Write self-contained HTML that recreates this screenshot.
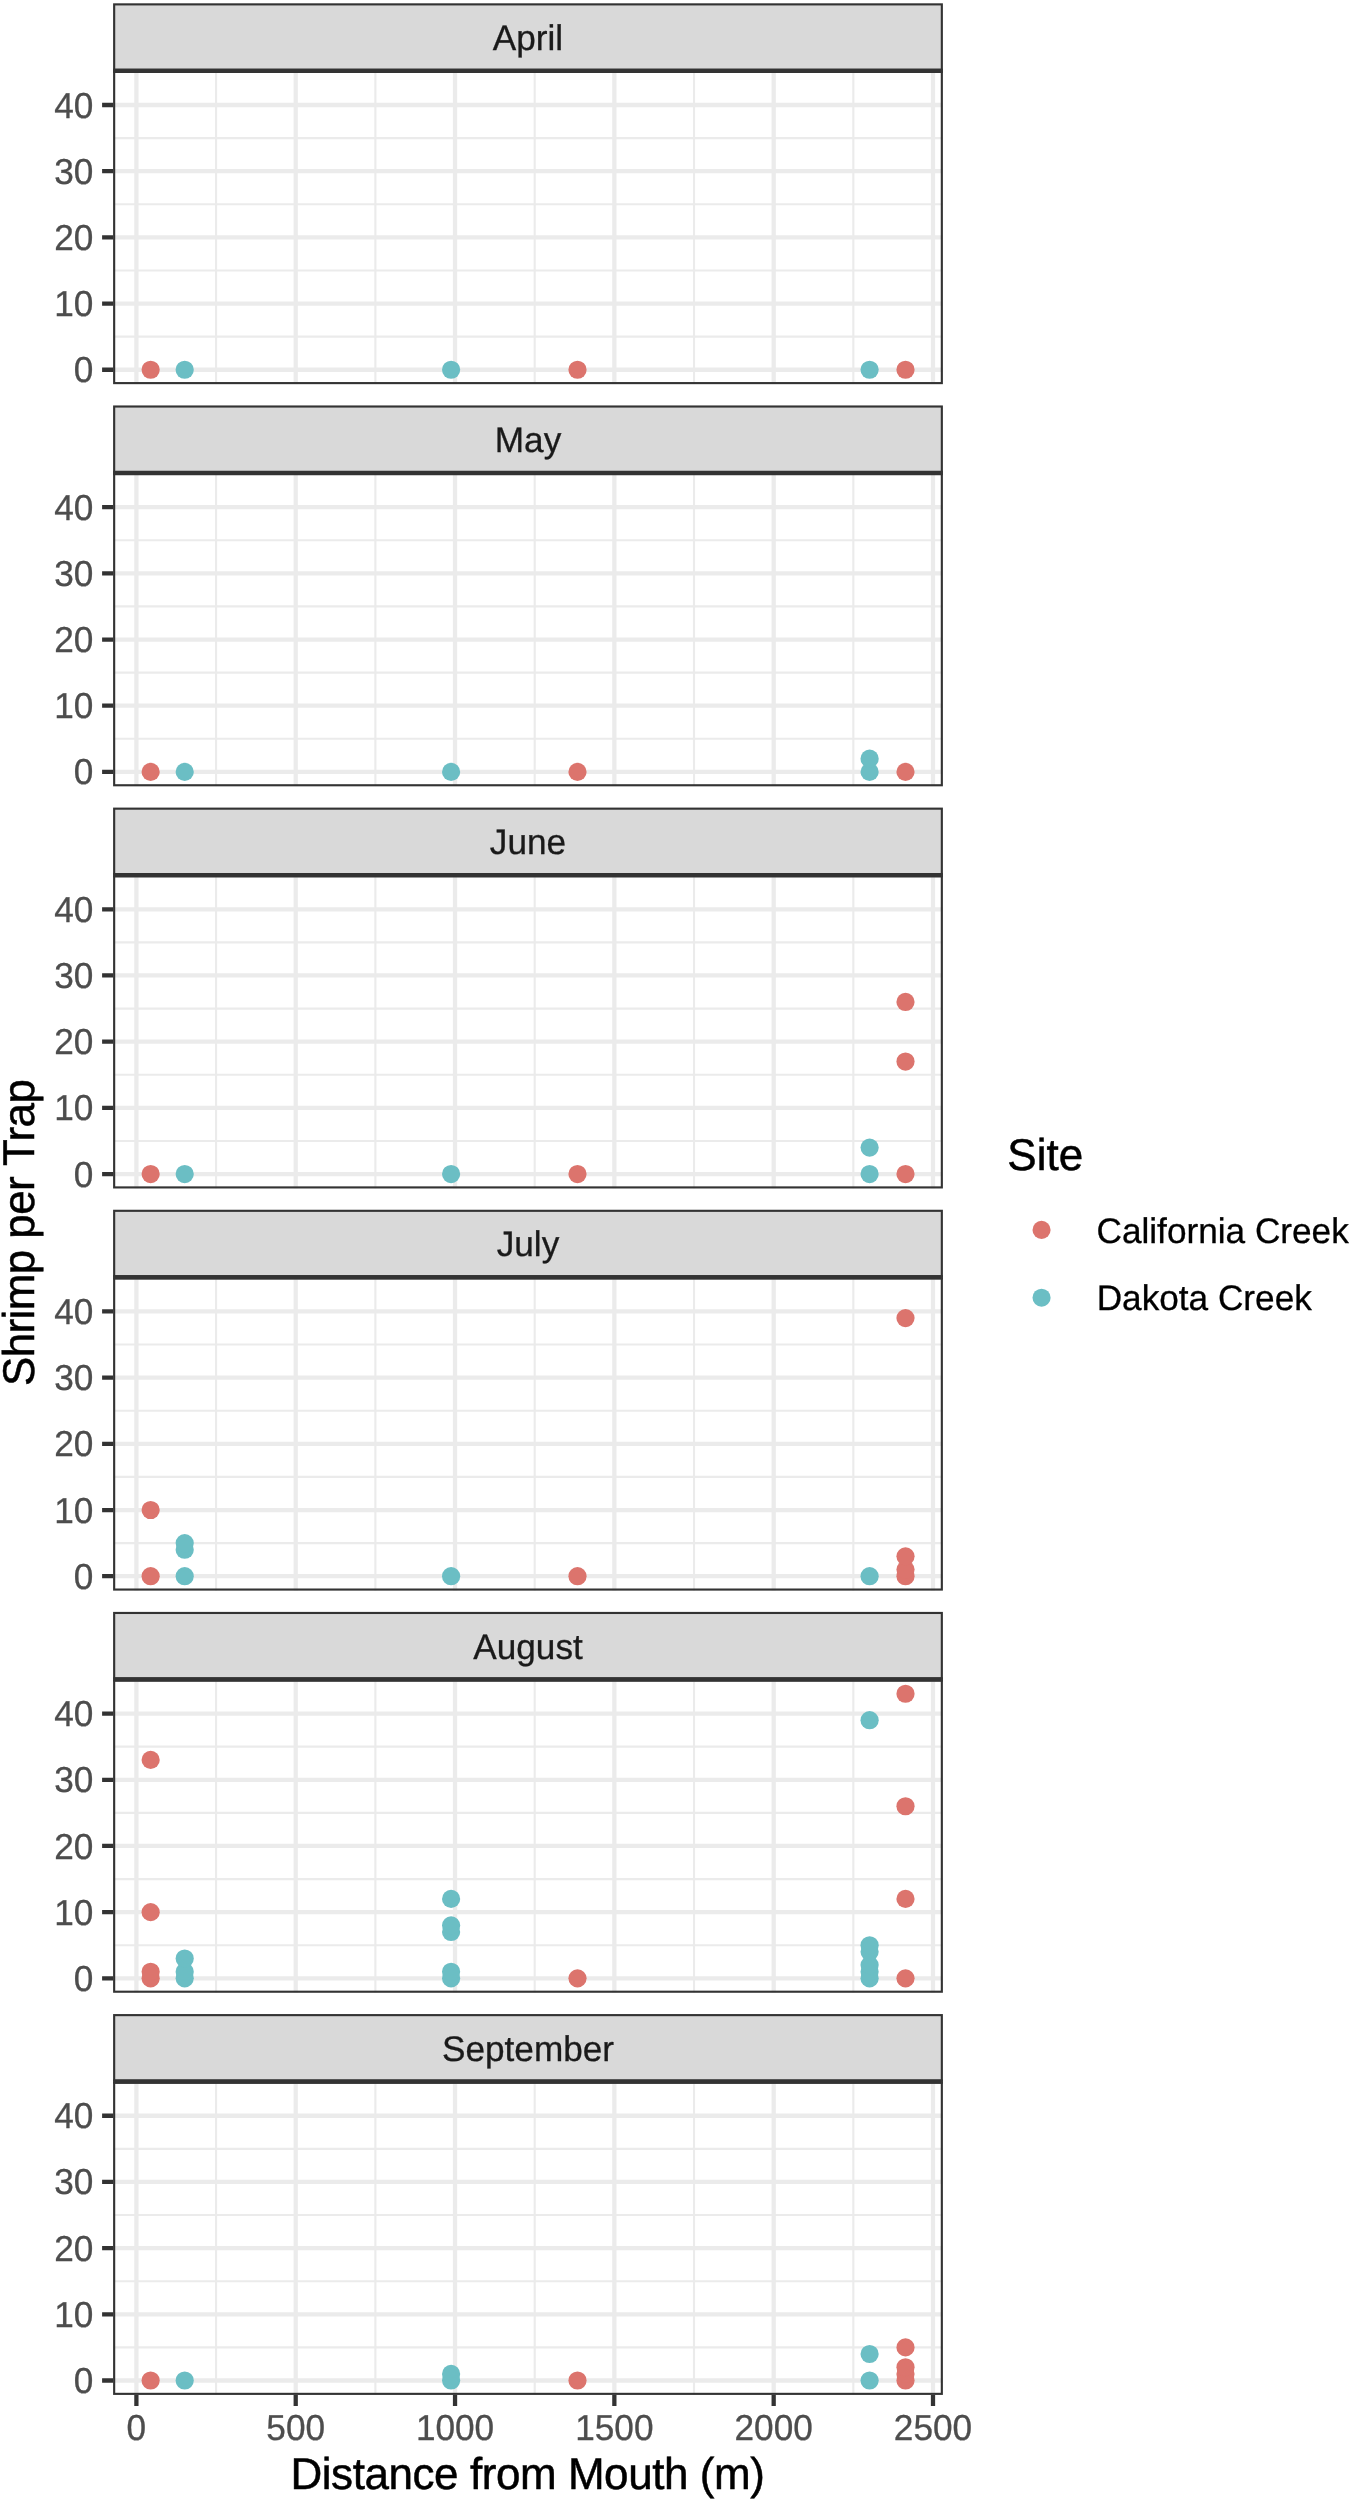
<!DOCTYPE html>
<html><head><meta charset="utf-8"><title>Shrimp per Trap</title>
<style>
html,body{margin:0;padding:0;background:#fff;width:1350px;height:2500px;overflow:hidden}
svg{display:block;font-family:"Liberation Sans",sans-serif;will-change:transform;text-rendering:geometricPrecision}
</style></head><body>
<svg width="1350" height="2500" viewBox="0 0 1350 2500">
<rect x="0" y="0" width="1350" height="2500" fill="#ffffff"/>
<defs>
<clipPath id="cp0"><rect x="113.1" y="70.85" width="829.8" height="313.33"/></clipPath>
<clipPath id="cp1"><rect x="113.1" y="473" width="829.8" height="313.33"/></clipPath>
<clipPath id="cp2"><rect x="113.1" y="875.15" width="829.8" height="313.33"/></clipPath>
<clipPath id="cp3"><rect x="113.1" y="1277.3" width="829.8" height="313.33"/></clipPath>
<clipPath id="cp4"><rect x="113.1" y="1679.45" width="829.8" height="313.33"/></clipPath>
<clipPath id="cp5"><rect x="113.1" y="2081.6" width="829.8" height="313.33"/></clipPath>
</defs>
<rect x="114.16" y="4.37" width="827.67" height="65.42" fill="#D9D9D9" stroke="#333333" stroke-width="2.13"/>
<text x="528" y="0" transform="translate(0 49.9) scale(1 1.01)" text-anchor="middle" font-size="35.2" fill="#1A1A1A" stroke="#1A1A1A" stroke-width="0.3">April</text>
<g clip-path="url(#cp0)">
<rect x="113.1" y="70.85" width="829.8" height="313.33" fill="#ffffff"/>
<path d="M113.1 336.65H942.9M113.1 270.47H942.9M113.1 204.28H942.9M113.1 138.09H942.9M113.1 71.89H942.9M216.06 70.85V384.18M375.38 70.85V384.18M534.7 70.85V384.18M694.02 70.85V384.18M853.34 70.85V384.18" stroke="#EBEBEB" stroke-width="2.13" fill="none"/>
<path d="M113.1 369.75H942.9M113.1 303.56H942.9M113.1 237.37H942.9M113.1 171.18H942.9M113.1 104.99H942.9M136.4 70.85V384.18M295.72 70.85V384.18M455.04 70.85V384.18M614.36 70.85V384.18M773.68 70.85V384.18M933 70.85V384.18" stroke="#EBEBEB" stroke-width="4.27" fill="none"/>
<circle cx="150.65" cy="369.75" r="9.1" fill="#DC746D"/>
<circle cx="184.7" cy="369.75" r="9.1" fill="#6BBEC4"/>
<circle cx="451.1" cy="369.75" r="9.1" fill="#6BBEC4"/>
<circle cx="577.5" cy="369.75" r="9.1" fill="#DC746D"/>
<circle cx="869.6" cy="369.75" r="9.1" fill="#6BBEC4"/>
<circle cx="905.5" cy="369.75" r="9.1" fill="#DC746D"/>
</g>
<rect x="114.16" y="71.91" width="827.67" height="311.2" fill="none" stroke="#333333" stroke-width="2.13"/>
<rect x="113.1" y="68.72" width="829.8" height="4.26" fill="#333333"/>
<path d="M102.1 369.75H113.1M102.1 303.56H113.1M102.1 237.37H113.1M102.1 171.18H113.1M102.1 104.99H113.1" stroke="#333333" stroke-width="4.27" fill="none"/>
<text x="93.4" y="0" transform="translate(0 382.3) scale(1 1.025)" text-anchor="end" font-size="35.2" fill="#4D4D4D" stroke="#4D4D4D" stroke-width="0.3">0</text>
<text x="93.4" y="0" transform="translate(0 316.11) scale(1 1.025)" text-anchor="end" font-size="35.2" fill="#4D4D4D" stroke="#4D4D4D" stroke-width="0.3">10</text>
<text x="93.4" y="0" transform="translate(0 249.92) scale(1 1.025)" text-anchor="end" font-size="35.2" fill="#4D4D4D" stroke="#4D4D4D" stroke-width="0.3">20</text>
<text x="93.4" y="0" transform="translate(0 183.73) scale(1 1.025)" text-anchor="end" font-size="35.2" fill="#4D4D4D" stroke="#4D4D4D" stroke-width="0.3">30</text>
<text x="93.4" y="0" transform="translate(0 117.54) scale(1 1.025)" text-anchor="end" font-size="35.2" fill="#4D4D4D" stroke="#4D4D4D" stroke-width="0.3">40</text>
<rect x="114.16" y="406.51" width="827.67" height="65.42" fill="#D9D9D9" stroke="#333333" stroke-width="2.13"/>
<text x="528" y="0" transform="translate(0 452.05) scale(1 1.01)" text-anchor="middle" font-size="35.2" fill="#1A1A1A" stroke="#1A1A1A" stroke-width="0.3">May</text>
<g clip-path="url(#cp1)">
<rect x="113.1" y="473" width="829.8" height="313.33" fill="#ffffff"/>
<path d="M113.1 738.8H942.9M113.1 672.62H942.9M113.1 606.42H942.9M113.1 540.24H942.9M113.1 474.04H942.9M216.06 473V786.33M375.38 473V786.33M534.7 473V786.33M694.02 473V786.33M853.34 473V786.33" stroke="#EBEBEB" stroke-width="2.13" fill="none"/>
<path d="M113.1 771.9H942.9M113.1 705.71H942.9M113.1 639.52H942.9M113.1 573.33H942.9M113.1 507.14H942.9M136.4 473V786.33M295.72 473V786.33M455.04 473V786.33M614.36 473V786.33M773.68 473V786.33M933 473V786.33" stroke="#EBEBEB" stroke-width="4.27" fill="none"/>
<circle cx="150.65" cy="771.9" r="9.1" fill="#DC746D"/>
<circle cx="184.7" cy="771.9" r="9.1" fill="#6BBEC4"/>
<circle cx="451.1" cy="771.9" r="9.1" fill="#6BBEC4"/>
<circle cx="577.5" cy="771.9" r="9.1" fill="#DC746D"/>
<circle cx="869.6" cy="771.9" r="9.1" fill="#6BBEC4"/>
<circle cx="869.6" cy="758.66" r="9.1" fill="#6BBEC4"/>
<circle cx="905.5" cy="771.9" r="9.1" fill="#DC746D"/>
</g>
<rect x="114.16" y="474.06" width="827.67" height="311.2" fill="none" stroke="#333333" stroke-width="2.13"/>
<rect x="113.1" y="470.87" width="829.8" height="4.26" fill="#333333"/>
<path d="M102.1 771.9H113.1M102.1 705.71H113.1M102.1 639.52H113.1M102.1 573.33H113.1M102.1 507.14H113.1" stroke="#333333" stroke-width="4.27" fill="none"/>
<text x="93.4" y="0" transform="translate(0 784.45) scale(1 1.025)" text-anchor="end" font-size="35.2" fill="#4D4D4D" stroke="#4D4D4D" stroke-width="0.3">0</text>
<text x="93.4" y="0" transform="translate(0 718.26) scale(1 1.025)" text-anchor="end" font-size="35.2" fill="#4D4D4D" stroke="#4D4D4D" stroke-width="0.3">10</text>
<text x="93.4" y="0" transform="translate(0 652.07) scale(1 1.025)" text-anchor="end" font-size="35.2" fill="#4D4D4D" stroke="#4D4D4D" stroke-width="0.3">20</text>
<text x="93.4" y="0" transform="translate(0 585.88) scale(1 1.025)" text-anchor="end" font-size="35.2" fill="#4D4D4D" stroke="#4D4D4D" stroke-width="0.3">30</text>
<text x="93.4" y="0" transform="translate(0 519.69) scale(1 1.025)" text-anchor="end" font-size="35.2" fill="#4D4D4D" stroke="#4D4D4D" stroke-width="0.3">40</text>
<rect x="114.16" y="808.66" width="827.67" height="65.42" fill="#D9D9D9" stroke="#333333" stroke-width="2.13"/>
<text x="528" y="0" transform="translate(0 854.2) scale(1 1.01)" text-anchor="middle" font-size="35.2" fill="#1A1A1A" stroke="#1A1A1A" stroke-width="0.3">June</text>
<g clip-path="url(#cp2)">
<rect x="113.1" y="875.15" width="829.8" height="313.33" fill="#ffffff"/>
<path d="M113.1 1140.95H942.9M113.1 1074.76H942.9M113.1 1008.57H942.9M113.1 942.38H942.9M113.1 876.19H942.9M216.06 875.15V1188.48M375.38 875.15V1188.48M534.7 875.15V1188.48M694.02 875.15V1188.48M853.34 875.15V1188.48" stroke="#EBEBEB" stroke-width="2.13" fill="none"/>
<path d="M113.1 1174.05H942.9M113.1 1107.86H942.9M113.1 1041.67H942.9M113.1 975.48H942.9M113.1 909.29H942.9M136.4 875.15V1188.48M295.72 875.15V1188.48M455.04 875.15V1188.48M614.36 875.15V1188.48M773.68 875.15V1188.48M933 875.15V1188.48" stroke="#EBEBEB" stroke-width="4.27" fill="none"/>
<circle cx="150.65" cy="1174.05" r="9.1" fill="#DC746D"/>
<circle cx="184.7" cy="1174.05" r="9.1" fill="#6BBEC4"/>
<circle cx="451.1" cy="1174.05" r="9.1" fill="#6BBEC4"/>
<circle cx="577.5" cy="1174.05" r="9.1" fill="#DC746D"/>
<circle cx="869.6" cy="1174.05" r="9.1" fill="#6BBEC4"/>
<circle cx="869.6" cy="1147.57" r="9.1" fill="#6BBEC4"/>
<circle cx="905.5" cy="1174.05" r="9.1" fill="#DC746D"/>
<circle cx="905.5" cy="1061.53" r="9.1" fill="#DC746D"/>
<circle cx="905.5" cy="1001.96" r="9.1" fill="#DC746D"/>
</g>
<rect x="114.16" y="876.22" width="827.67" height="311.2" fill="none" stroke="#333333" stroke-width="2.13"/>
<rect x="113.1" y="873.02" width="829.8" height="4.26" fill="#333333"/>
<path d="M102.1 1174.05H113.1M102.1 1107.86H113.1M102.1 1041.67H113.1M102.1 975.48H113.1M102.1 909.29H113.1" stroke="#333333" stroke-width="4.27" fill="none"/>
<text x="93.4" y="0" transform="translate(0 1186.6) scale(1 1.025)" text-anchor="end" font-size="35.2" fill="#4D4D4D" stroke="#4D4D4D" stroke-width="0.3">0</text>
<text x="93.4" y="0" transform="translate(0 1120.41) scale(1 1.025)" text-anchor="end" font-size="35.2" fill="#4D4D4D" stroke="#4D4D4D" stroke-width="0.3">10</text>
<text x="93.4" y="0" transform="translate(0 1054.22) scale(1 1.025)" text-anchor="end" font-size="35.2" fill="#4D4D4D" stroke="#4D4D4D" stroke-width="0.3">20</text>
<text x="93.4" y="0" transform="translate(0 988.03) scale(1 1.025)" text-anchor="end" font-size="35.2" fill="#4D4D4D" stroke="#4D4D4D" stroke-width="0.3">30</text>
<text x="93.4" y="0" transform="translate(0 921.84) scale(1 1.025)" text-anchor="end" font-size="35.2" fill="#4D4D4D" stroke="#4D4D4D" stroke-width="0.3">40</text>
<rect x="114.16" y="1210.81" width="827.67" height="65.42" fill="#D9D9D9" stroke="#333333" stroke-width="2.13"/>
<text x="528" y="0" transform="translate(0 1256.35) scale(1 1.01)" text-anchor="middle" font-size="35.2" fill="#1A1A1A" stroke="#1A1A1A" stroke-width="0.3">July</text>
<g clip-path="url(#cp3)">
<rect x="113.1" y="1277.3" width="829.8" height="313.33" fill="#ffffff"/>
<path d="M113.1 1543.1H942.9M113.1 1476.91H942.9M113.1 1410.72H942.9M113.1 1344.53H942.9M113.1 1278.34H942.9M216.06 1277.3V1590.63M375.38 1277.3V1590.63M534.7 1277.3V1590.63M694.02 1277.3V1590.63M853.34 1277.3V1590.63" stroke="#EBEBEB" stroke-width="2.13" fill="none"/>
<path d="M113.1 1576.2H942.9M113.1 1510.01H942.9M113.1 1443.82H942.9M113.1 1377.63H942.9M113.1 1311.44H942.9M136.4 1277.3V1590.63M295.72 1277.3V1590.63M455.04 1277.3V1590.63M614.36 1277.3V1590.63M773.68 1277.3V1590.63M933 1277.3V1590.63" stroke="#EBEBEB" stroke-width="4.27" fill="none"/>
<circle cx="150.65" cy="1576.2" r="9.1" fill="#DC746D"/>
<circle cx="150.65" cy="1510.01" r="9.1" fill="#DC746D"/>
<circle cx="184.7" cy="1576.2" r="9.1" fill="#6BBEC4"/>
<circle cx="184.7" cy="1549.72" r="9.1" fill="#6BBEC4"/>
<circle cx="184.7" cy="1543.1" r="9.1" fill="#6BBEC4"/>
<circle cx="451.1" cy="1576.2" r="9.1" fill="#6BBEC4"/>
<circle cx="577.5" cy="1576.2" r="9.1" fill="#DC746D"/>
<circle cx="869.6" cy="1576.2" r="9.1" fill="#6BBEC4"/>
<circle cx="905.5" cy="1576.2" r="9.1" fill="#DC746D"/>
<circle cx="905.5" cy="1569.58" r="9.1" fill="#DC746D"/>
<circle cx="905.5" cy="1556.34" r="9.1" fill="#DC746D"/>
<circle cx="905.5" cy="1318.06" r="9.1" fill="#DC746D"/>
</g>
<rect x="114.16" y="1278.36" width="827.67" height="311.2" fill="none" stroke="#333333" stroke-width="2.13"/>
<rect x="113.1" y="1275.17" width="829.8" height="4.26" fill="#333333"/>
<path d="M102.1 1576.2H113.1M102.1 1510.01H113.1M102.1 1443.82H113.1M102.1 1377.63H113.1M102.1 1311.44H113.1" stroke="#333333" stroke-width="4.27" fill="none"/>
<text x="93.4" y="0" transform="translate(0 1588.75) scale(1 1.025)" text-anchor="end" font-size="35.2" fill="#4D4D4D" stroke="#4D4D4D" stroke-width="0.3">0</text>
<text x="93.4" y="0" transform="translate(0 1522.56) scale(1 1.025)" text-anchor="end" font-size="35.2" fill="#4D4D4D" stroke="#4D4D4D" stroke-width="0.3">10</text>
<text x="93.4" y="0" transform="translate(0 1456.37) scale(1 1.025)" text-anchor="end" font-size="35.2" fill="#4D4D4D" stroke="#4D4D4D" stroke-width="0.3">20</text>
<text x="93.4" y="0" transform="translate(0 1390.18) scale(1 1.025)" text-anchor="end" font-size="35.2" fill="#4D4D4D" stroke="#4D4D4D" stroke-width="0.3">30</text>
<text x="93.4" y="0" transform="translate(0 1323.99) scale(1 1.025)" text-anchor="end" font-size="35.2" fill="#4D4D4D" stroke="#4D4D4D" stroke-width="0.3">40</text>
<rect x="114.16" y="1612.96" width="827.67" height="65.42" fill="#D9D9D9" stroke="#333333" stroke-width="2.13"/>
<text x="528" y="0" transform="translate(0 1658.5) scale(1 1.01)" text-anchor="middle" font-size="35.2" fill="#1A1A1A" stroke="#1A1A1A" stroke-width="0.3">August</text>
<g clip-path="url(#cp4)">
<rect x="113.1" y="1679.45" width="829.8" height="313.33" fill="#ffffff"/>
<path d="M113.1 1945.25H942.9M113.1 1879.06H942.9M113.1 1812.88H942.9M113.1 1746.68H942.9M113.1 1680.49H942.9M216.06 1679.45V1992.78M375.38 1679.45V1992.78M534.7 1679.45V1992.78M694.02 1679.45V1992.78M853.34 1679.45V1992.78" stroke="#EBEBEB" stroke-width="2.13" fill="none"/>
<path d="M113.1 1978.35H942.9M113.1 1912.16H942.9M113.1 1845.97H942.9M113.1 1779.78H942.9M113.1 1713.59H942.9M136.4 1679.45V1992.78M295.72 1679.45V1992.78M455.04 1679.45V1992.78M614.36 1679.45V1992.78M773.68 1679.45V1992.78M933 1679.45V1992.78" stroke="#EBEBEB" stroke-width="4.27" fill="none"/>
<circle cx="150.65" cy="1978.35" r="9.1" fill="#DC746D"/>
<circle cx="150.65" cy="1971.73" r="9.1" fill="#DC746D"/>
<circle cx="150.65" cy="1912.16" r="9.1" fill="#DC746D"/>
<circle cx="150.65" cy="1759.92" r="9.1" fill="#DC746D"/>
<circle cx="184.7" cy="1978.35" r="9.1" fill="#6BBEC4"/>
<circle cx="184.7" cy="1971.73" r="9.1" fill="#6BBEC4"/>
<circle cx="184.7" cy="1958.49" r="9.1" fill="#6BBEC4"/>
<circle cx="451.1" cy="1978.35" r="9.1" fill="#6BBEC4"/>
<circle cx="451.1" cy="1971.73" r="9.1" fill="#6BBEC4"/>
<circle cx="451.1" cy="1932.02" r="9.1" fill="#6BBEC4"/>
<circle cx="451.1" cy="1925.4" r="9.1" fill="#6BBEC4"/>
<circle cx="451.1" cy="1898.92" r="9.1" fill="#6BBEC4"/>
<circle cx="577.5" cy="1978.35" r="9.1" fill="#DC746D"/>
<circle cx="869.6" cy="1978.35" r="9.1" fill="#6BBEC4"/>
<circle cx="869.6" cy="1971.73" r="9.1" fill="#6BBEC4"/>
<circle cx="869.6" cy="1965.11" r="9.1" fill="#6BBEC4"/>
<circle cx="869.6" cy="1951.87" r="9.1" fill="#6BBEC4"/>
<circle cx="869.6" cy="1945.25" r="9.1" fill="#6BBEC4"/>
<circle cx="869.6" cy="1720.21" r="9.1" fill="#6BBEC4"/>
<circle cx="905.5" cy="1978.35" r="9.1" fill="#DC746D"/>
<circle cx="905.5" cy="1898.92" r="9.1" fill="#DC746D"/>
<circle cx="905.5" cy="1806.26" r="9.1" fill="#DC746D"/>
<circle cx="905.5" cy="1693.73" r="9.1" fill="#DC746D"/>
</g>
<rect x="114.16" y="1680.51" width="827.67" height="311.2" fill="none" stroke="#333333" stroke-width="2.13"/>
<rect x="113.1" y="1677.32" width="829.8" height="4.26" fill="#333333"/>
<path d="M102.1 1978.35H113.1M102.1 1912.16H113.1M102.1 1845.97H113.1M102.1 1779.78H113.1M102.1 1713.59H113.1" stroke="#333333" stroke-width="4.27" fill="none"/>
<text x="93.4" y="0" transform="translate(0 1990.9) scale(1 1.025)" text-anchor="end" font-size="35.2" fill="#4D4D4D" stroke="#4D4D4D" stroke-width="0.3">0</text>
<text x="93.4" y="0" transform="translate(0 1924.71) scale(1 1.025)" text-anchor="end" font-size="35.2" fill="#4D4D4D" stroke="#4D4D4D" stroke-width="0.3">10</text>
<text x="93.4" y="0" transform="translate(0 1858.52) scale(1 1.025)" text-anchor="end" font-size="35.2" fill="#4D4D4D" stroke="#4D4D4D" stroke-width="0.3">20</text>
<text x="93.4" y="0" transform="translate(0 1792.33) scale(1 1.025)" text-anchor="end" font-size="35.2" fill="#4D4D4D" stroke="#4D4D4D" stroke-width="0.3">30</text>
<text x="93.4" y="0" transform="translate(0 1726.14) scale(1 1.025)" text-anchor="end" font-size="35.2" fill="#4D4D4D" stroke="#4D4D4D" stroke-width="0.3">40</text>
<rect x="114.16" y="2015.12" width="827.67" height="65.42" fill="#D9D9D9" stroke="#333333" stroke-width="2.13"/>
<text x="528" y="0" transform="translate(0 2060.65) scale(1 1.01)" text-anchor="middle" font-size="35.2" fill="#1A1A1A" stroke="#1A1A1A" stroke-width="0.3">September</text>
<g clip-path="url(#cp5)">
<rect x="113.1" y="2081.6" width="829.8" height="313.33" fill="#ffffff"/>
<path d="M113.1 2347.41H942.9M113.1 2281.22H942.9M113.1 2215.03H942.9M113.1 2148.84H942.9M113.1 2082.64H942.9M216.06 2081.6V2394.93M375.38 2081.6V2394.93M534.7 2081.6V2394.93M694.02 2081.6V2394.93M853.34 2081.6V2394.93" stroke="#EBEBEB" stroke-width="2.13" fill="none"/>
<path d="M113.1 2380.5H942.9M113.1 2314.31H942.9M113.1 2248.12H942.9M113.1 2181.93H942.9M113.1 2115.74H942.9M136.4 2081.6V2394.93M295.72 2081.6V2394.93M455.04 2081.6V2394.93M614.36 2081.6V2394.93M773.68 2081.6V2394.93M933 2081.6V2394.93" stroke="#EBEBEB" stroke-width="4.27" fill="none"/>
<circle cx="150.65" cy="2380.5" r="9.1" fill="#DC746D"/>
<circle cx="184.7" cy="2380.5" r="9.1" fill="#6BBEC4"/>
<circle cx="451.1" cy="2380.5" r="9.1" fill="#6BBEC4"/>
<circle cx="451.1" cy="2373.88" r="9.1" fill="#6BBEC4"/>
<circle cx="577.5" cy="2380.5" r="9.1" fill="#DC746D"/>
<circle cx="869.6" cy="2380.5" r="9.1" fill="#6BBEC4"/>
<circle cx="869.6" cy="2354.02" r="9.1" fill="#6BBEC4"/>
<circle cx="905.5" cy="2380.5" r="9.1" fill="#DC746D"/>
<circle cx="905.5" cy="2373.88" r="9.1" fill="#DC746D"/>
<circle cx="905.5" cy="2367.26" r="9.1" fill="#DC746D"/>
<circle cx="905.5" cy="2347.41" r="9.1" fill="#DC746D"/>
</g>
<rect x="114.16" y="2082.66" width="827.67" height="311.2" fill="none" stroke="#333333" stroke-width="2.13"/>
<rect x="113.1" y="2079.47" width="829.8" height="4.26" fill="#333333"/>
<path d="M102.1 2380.5H113.1M102.1 2314.31H113.1M102.1 2248.12H113.1M102.1 2181.93H113.1M102.1 2115.74H113.1" stroke="#333333" stroke-width="4.27" fill="none"/>
<text x="93.4" y="0" transform="translate(0 2393.05) scale(1 1.025)" text-anchor="end" font-size="35.2" fill="#4D4D4D" stroke="#4D4D4D" stroke-width="0.3">0</text>
<text x="93.4" y="0" transform="translate(0 2326.86) scale(1 1.025)" text-anchor="end" font-size="35.2" fill="#4D4D4D" stroke="#4D4D4D" stroke-width="0.3">10</text>
<text x="93.4" y="0" transform="translate(0 2260.67) scale(1 1.025)" text-anchor="end" font-size="35.2" fill="#4D4D4D" stroke="#4D4D4D" stroke-width="0.3">20</text>
<text x="93.4" y="0" transform="translate(0 2194.48) scale(1 1.025)" text-anchor="end" font-size="35.2" fill="#4D4D4D" stroke="#4D4D4D" stroke-width="0.3">30</text>
<text x="93.4" y="0" transform="translate(0 2128.29) scale(1 1.025)" text-anchor="end" font-size="35.2" fill="#4D4D4D" stroke="#4D4D4D" stroke-width="0.3">40</text>
<path d="M136.4 2394.93V2405.93M295.72 2394.93V2405.93M455.04 2394.93V2405.93M614.36 2394.93V2405.93M773.68 2394.93V2405.93M933 2394.93V2405.93" stroke="#333333" stroke-width="4.27" fill="none"/>
<text x="136.4" y="0" transform="translate(0 2439.8) scale(1 1.025)" text-anchor="middle" font-size="35.2" fill="#4D4D4D" stroke="#4D4D4D" stroke-width="0.3">0</text>
<text x="295.72" y="0" transform="translate(0 2439.8) scale(1 1.025)" text-anchor="middle" font-size="35.2" fill="#4D4D4D" stroke="#4D4D4D" stroke-width="0.3">500</text>
<text x="455.04" y="0" transform="translate(0 2439.8) scale(1 1.025)" text-anchor="middle" font-size="35.2" fill="#4D4D4D" stroke="#4D4D4D" stroke-width="0.3">1000</text>
<text x="614.36" y="0" transform="translate(0 2439.8) scale(1 1.025)" text-anchor="middle" font-size="35.2" fill="#4D4D4D" stroke="#4D4D4D" stroke-width="0.3">1500</text>
<text x="773.68" y="0" transform="translate(0 2439.8) scale(1 1.025)" text-anchor="middle" font-size="35.2" fill="#4D4D4D" stroke="#4D4D4D" stroke-width="0.3">2000</text>
<text x="933" y="0" transform="translate(0 2439.8) scale(1 1.025)" text-anchor="middle" font-size="35.2" fill="#4D4D4D" stroke="#4D4D4D" stroke-width="0.3">2500</text>
<text x="290.46" y="0" transform="translate(0 2489.0) scale(1 1.01)" font-size="44" fill="#000000" stroke="#000000" stroke-width="0.5" textLength="474.4" lengthAdjust="spacing">Distance from Mouth (m)</text>
<text x="0" y="0" transform="translate(34.0 1386.1) rotate(-90) scale(1 1.01)" font-size="44" fill="#000000" stroke="#000000" stroke-width="0.5" textLength="307.05" lengthAdjust="spacing">Shrimp per Trap</text>
<text x="1007.3" y="0" transform="translate(0 1170) scale(1 1.01)" font-size="44" fill="#000000" stroke="#000000" stroke-width="0.5">Site</text>
<circle cx="1041.55" cy="1229.9" r="9.05" fill="#DC746D"/>
<circle cx="1041.55" cy="1297.7" r="9.05" fill="#6BBEC4"/>
<text x="1096.5" y="0" transform="translate(0 1242.9) scale(1 1.01)" font-size="35.2" fill="#000000" stroke="#000000" stroke-width="0.3">California Creek</text>
<text x="1096.7" y="0" transform="translate(0 1310.4) scale(1 1.01)" font-size="35.2" fill="#000000" stroke="#000000" stroke-width="0.3">Dakota Creek</text>
</svg>
</body></html>
